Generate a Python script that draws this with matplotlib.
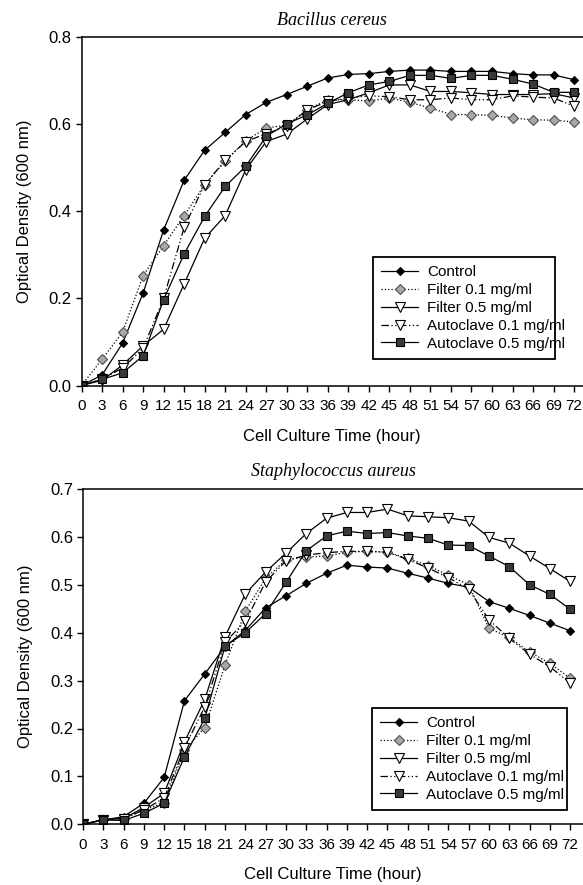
import matplotlib
matplotlib.use("Agg")
import matplotlib.pyplot as plt

# ================================
# Data (optical density, 600 nm)
# ================================
hours = list(range(0, 73, 3))

series_names = ["Control", "Filter 0.1 mg/ml", "Filter 0.5 mg/ml",
                "Autoclave 0.1 mg/ml", "Autoclave 0.5 mg/ml"]

# Bacillus cereus
bc_control = [0, 0.024, 0.097, 0.212, 0.357, 0.471, 0.540, 0.581, 0.622, 0.650, 0.668, 0.687, 0.706,
              0.714, 0.716, 0.721, 0.724, 0.724, 0.721, 0.721, 0.721, 0.716, 0.713, 0.713, 0.702]
bc_filter01 = [0, 0.060, 0.122, 0.252, 0.321, 0.390, 0.461, 0.515, 0.562, 0.591, 0.598, 0.633, 0.656,
               0.656, 0.653, 0.660, 0.650, 0.637, 0.622, 0.622, 0.620, 0.614, 0.610, 0.609, 0.605]
bc_filter05 = [0, 0.012, 0.047, 0.091, 0.129, 0.233, 0.338, 0.390, 0.495, 0.560, 0.577, 0.612, 0.645,
               0.656, 0.672, 0.690, 0.690, 0.675, 0.675, 0.672, 0.668, 0.668, 0.668, 0.670, 0.660]
bc_auto01 = [0, 0.015, 0.040, 0.085, 0.200, 0.363, 0.461, 0.517, 0.560, 0.578, 0.595, 0.633, 0.652,
             0.660, 0.665, 0.663, 0.656, 0.656, 0.660, 0.656, 0.656, 0.665, 0.662, 0.660, 0.641]
bc_auto05 = [0, 0.014, 0.029, 0.068, 0.197, 0.302, 0.388, 0.457, 0.503, 0.572, 0.601, 0.621, 0.648,
             0.672, 0.690, 0.698, 0.712, 0.712, 0.705, 0.712, 0.712, 0.703, 0.692, 0.673, 0.673]

# Staphylococcus aureus
sa_control = [0, 0.009, 0.016, 0.044, 0.098, 0.258, 0.314, 0.371, 0.405, 0.452, 0.477, 0.503, 0.524,
              0.541, 0.537, 0.535, 0.524, 0.514, 0.503, 0.495, 0.465, 0.451, 0.436, 0.420, 0.404]
sa_filter01 = [0, 0.010, 0.012, 0.030, 0.045, 0.155, 0.202, 0.333, 0.445, 0.514, 0.552, 0.558, 0.560,
               0.568, 0.570, 0.568, 0.555, 0.540, 0.520, 0.500, 0.409, 0.390, 0.360, 0.336, 0.305]
sa_filter05 = [0, 0.010, 0.012, 0.035, 0.065, 0.172, 0.261, 0.392, 0.481, 0.527, 0.566, 0.607, 0.639,
               0.651, 0.651, 0.658, 0.644, 0.642, 0.640, 0.633, 0.599, 0.587, 0.560, 0.534, 0.507]
sa_auto01 = [0, 0.010, 0.012, 0.030, 0.055, 0.160, 0.245, 0.380, 0.424, 0.506, 0.550, 0.562, 0.567,
             0.570, 0.570, 0.568, 0.553, 0.535, 0.515, 0.491, 0.427, 0.388, 0.355, 0.329, 0.295]
sa_auto05 = [0, 0.009, 0.008, 0.023, 0.044, 0.141, 0.221, 0.372, 0.400, 0.440, 0.505, 0.571, 0.602,
             0.612, 0.607, 0.609, 0.602, 0.597, 0.583, 0.582, 0.560, 0.538, 0.500, 0.480, 0.449]

# ================================
# Styles
# ================================
styles = [
    dict(ls="-", marker="D", mfc="black", mec="black", ms=4.5),
    dict(ls=":", marker="D", mfc="#a8a8a8", mec="#505050", ms=5),
    dict(ls="-", marker="v", mfc="white", mec="black", ms=6.5),
    dict(ls=(0, (6, 2, 1, 2, 1, 2)), marker="v", mfc="white", mec="black", ms=6.5),
    dict(ls="-", marker="s", mfc="#3a3a3a", mec="black", ms=5.5),
]

plt.rcParams["font.family"] = ["Liberation Sans", "DejaVu Sans"]
narrow = ["Liberation Sans Narrow", "Liberation Sans", "DejaVu Sans"]

fig = plt.figure(figsize=(5.83, 8.85), dpi=100)

panels = [
    dict(title="Bacillus cereus", data=[bc_control, bc_filter01, bc_filter05, bc_auto01, bc_auto05],
         rect=[81.5 / 583, 1 - 385.5 / 885, 501.5 / 583, 348.5 / 885], xmax=73.3,
         ymax=0.8, ystep=0.2, leg=(373 / 583, 1 - 257 / 885, 182 / 583)),
    dict(title="Staphylococcus aureus", data=[sa_control, sa_filter01, sa_filter05, sa_auto01, sa_auto05],
         rect=[83 / 583, 1 - 824.3 / 885, 500 / 583, 335.3 / 885], xmax=73.9,
         ymax=0.7, ystep=0.1, leg=(372 / 583, 1 - 708 / 885, 195 / 583)),
]

for p in panels:
    ax = fig.add_axes(p["rect"])
    for name, vals, st in zip(series_names, p["data"], styles):
        ax.plot(hours, vals, color="black", lw=0.9, label=name, mew=0.8, **st)

    ax.set_xlim(0, p["xmax"])
    ax.set_ylim(0, p["ymax"])
    ax.set_xticks(hours)
    ax.set_xticklabels([str(h) for h in hours], family=narrow, fontsize=11)
    nt = int(round(p["ymax"] / p["ystep"])) + 1
    yt = [i * p["ystep"] for i in range(nt)]
    ax.set_yticks(yt)
    ax.set_yticklabels(["%.1f" % v for v in yt], fontsize=12)
    ax.tick_params(direction="out", length=4, width=1, pad=3)
    ax.tick_params(axis="x", pad=6)
    ax.spines["right"].set_visible(False)
    for s in ["left", "bottom", "top"]:
        ax.spines[s].set_linewidth(1.1)

    ax.set_title(p["title"], family=["Liberation Serif", "DejaVu Serif"], style="italic",
                 fontsize=13, pad=9)
    ax.set_xlabel("Cell Culture Time (hour)", fontsize=12, labelpad=11)
    ax.set_ylabel("Optical Density (600 nm)", fontsize=12, labelpad=12)

    x0, ytop, w = p["leg"]
    leg = ax.legend(loc="upper left", bbox_to_anchor=(x0, 0, w, ytop),
                    bbox_transform=fig.transFigure, mode="expand", borderaxespad=0,
                    fancybox=False, edgecolor="black", framealpha=1, numpoints=1,
                    handlelength=2.4, labelspacing=0.25, handletextpad=0.6,
                    borderpad=0.55, prop={"family": narrow, "size": 11})
    leg.get_frame().set_linewidth(1.3)

fig.savefig("out.png", dpi=100)
